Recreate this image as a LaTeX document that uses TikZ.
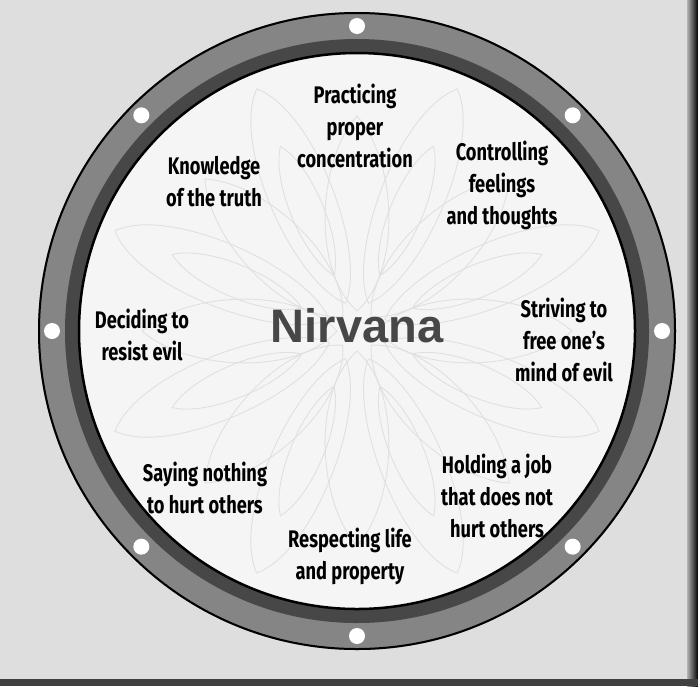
\documentclass[tikz,border=0pt]{standalone}
\usepackage{fontspec}
\setmainfont{Fira Sans}
\newfontfamily\labelfont{Fira Sans}[FakeStretch=0.76]
\newfontfamily\titlefont{Liberation Sans}
\begin{document}
\begin{tikzpicture}[x=1pt,y=-1pt,
  lbl/.style={font=\labelfont\bfseries\fontsize{24}{32}\selectfont, align=center, inner sep=0pt, text=black},
  bolt/.style={fill=white, draw=none},
  petal/.style={draw=black!12, line width=0.9pt},
  titletext/.style={font=\titlefont\bfseries\fontsize{47}{47}\selectfont, inner sep=0pt}
]
\useasboundingbox (0,0) rectangle (698,686);
% background
\fill[black!13] (0,0) rectangle (698,686);
\shade[left color=black!30, right color=black] (687,0) rectangle (698,686);
\fill[black!75] (0,679) rectangle (698,686);
\coordinate (c) at (357,331);
% ring
\fill[black!48] (c) circle[radius=319];
\fill[black!72] (c) circle[radius=292];
\draw[line width=2pt] (c) circle[radius=318];
\fill[black!4] (c) circle[radius=278];
\draw[line width=2.5pt] (c) circle[radius=278];
% faint lotus petals
\begin{scope}[shift={(c)}]
  \foreach \a in {0,45,...,315}{
    \draw[petal, rotate=\a] (20,0) .. controls (60,-45) and (170,-40) .. (215,0) .. controls (170,40) and (60,45) .. (20,0);
  }
  \foreach \a in {22.5,67.5,...,337.5}{
    \draw[petal, rotate=\a] (30,0) .. controls (70,-40) and (220,-45) .. (262,0) .. controls (220,45) and (70,40) .. (30,0);
    \draw[petal, rotate=\a] (60,0) .. controls (90,-22) and (170,-22) .. (200,0) .. controls (170,22) and (90,22) .. (60,0);
  }
  \foreach \a in {0,45,...,315}{
    \fill[bolt] (\a:305) circle[radius=8];
  }
\end{scope}
% labels
\node[lbl] (practicing) at (355,126) {Practicing\\proper\\concentration};
\node[lbl] (knowledge) at (214,182) {Knowledge\\of the truth};
\node[lbl] (controlling) at (502,185) {Controlling\\feelings\\and thoughts};
\node[lbl] (deciding) at (142,335) {Deciding to\\resist evil};
\node[lbl] (striving) at (564,340) {Striving to\\free one’s\\mind of evil};
\node[lbl] (saying) at (205,488) {Saying nothing\\to hurt others};
\node[lbl] (holding) at (497,496) {Holding a job\\that does not\\hurt others};
\node[lbl] (respecting) at (350,556) {Respecting life\\and property};
% title
\node[titletext, text=black!72] (nirvana) at (357,325.5) {Nirvana};
\end{tikzpicture}
\end{document}
